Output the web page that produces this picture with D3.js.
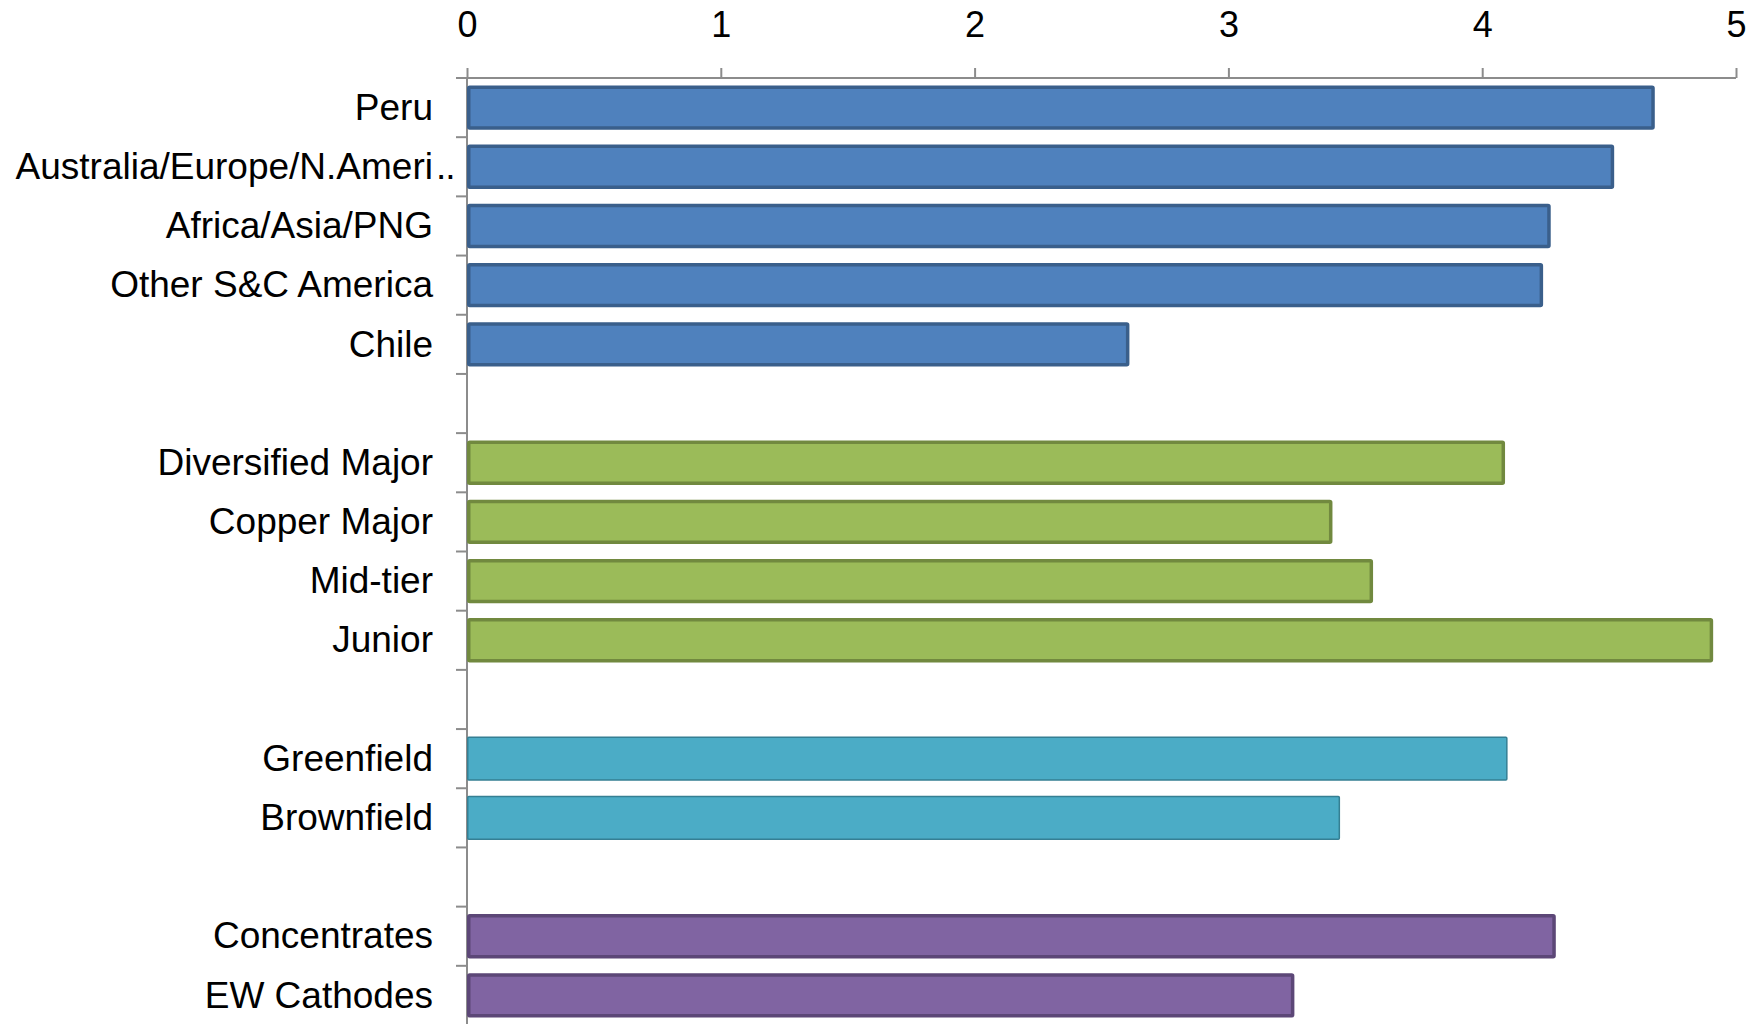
<!DOCTYPE html>
<html>
<head>
<meta charset="utf-8">
<script src="https://cdn.jsdelivr.net/npm/d3@7/dist/d3.min.js"></script>
<style>
  html, body { margin: 0; padding: 0; background: #ffffff; }
  svg { display: block; }
  text { font-family: "Liberation Sans", Arial, sans-serif; fill: #000; }
</style>
</head>
<body>
<svg id="chart" width="1762" height="1024"></svg>
<script>
// Groups of horizontal bars, top to bottom
const regionLabels  = ["Peru", "Australia/Europe/N.Ameri..", "Africa/Asia/PNG", "Other S&C America", "Chile"];
const regionValues  = [4.68, 4.52, 4.27, 4.24, 2.61];

const ownerLabels   = ["Diversified Major", "Copper Major", "Mid-tier", "Junior"];
const ownerValues   = [4.09, 3.41, 3.57, 4.91];

const projectLabels = ["Greenfield", "Brownfield"];
const projectValues = [4.10, 3.44];

const productLabels = ["Concentrates", "EW Cathodes"];
const productValues = [4.29, 3.26];

const xTicks = [0, 1, 2, 3, 4, 5];

const groups = [
  { labels: regionLabels,  values: regionValues,  fill: "#4f81bd", stroke: "#3a5f8b", sw: 3.5 },
  { labels: ownerLabels,   values: ownerValues,   fill: "#9bbb59", stroke: "#71893f", sw: 3.5 },
  { labels: projectLabels, values: projectValues, fill: "#4bacc6", stroke: "#357f93", sw: 1.5 },
  { labels: productLabels, values: productValues, fill: "#8064a2", stroke: "#5c4777", sw: 3.5 }
];

// Flatten into rows, with an empty slot between groups
const rows = [];
groups.forEach((g, gi) => {
  g.labels.forEach((lab, i) => rows.push({ key: "r" + rows.length, label: lab, value: g.values[i], g }));
  if (gi < groups.length - 1) rows.push({ key: "r" + rows.length, label: "", value: null, g: null });
});

const svg = d3.select("#chart");
const margin = { left: 467, right: 26, top: 78, bottom: -1 };
const W = 1762, H = 1024;

const x = d3.scaleLinear().domain([0, 5]).range([margin.left, W - margin.right]);
const y = d3.scaleBand()
  .domain(rows.map(r => r.key))
  .range([margin.top, H - margin.bottom])
  .paddingInner(0.25)
  .paddingOuter(0.125);

const axisColor = "#8c8c8c";

// Top value axis
const xAxis = d3.axisTop(x).tickValues(xTicks).tickSize(10).tickPadding(0).tickFormat(d3.format("d"));
const gx = svg.append("g").attr("transform", `translate(0,${margin.top})`).call(xAxis);
gx.select(".domain").attr("stroke", axisColor).attr("stroke-width", 2)
  .attr("d", `M${margin.left - 11},0H${x(5)}`);
gx.selectAll(".tick line").attr("stroke", axisColor).attr("stroke-width", 2);
gx.selectAll(".tick text")
  .attr("y", -41)
  .attr("dy", 0)
  .style("font-size", "36px")
  .style("font-family", "'Liberation Sans', Arial, sans-serif")
  .attr("fill", "#000");

// Left category axis: line with ticks at slot boundaries
const step = y.step();
const boundaries = d3.range(rows.length + 1).map(i => margin.top + i * step);
const gy = svg.append("g");
gy.append("line")
  .attr("x1", margin.left).attr("x2", margin.left)
  .attr("y1", margin.top).attr("y2", H)
  .attr("stroke", axisColor).attr("stroke-width", 2);
gy.selectAll("line.tk").data(boundaries.slice(1)).join("line")
  .attr("class", "tk")
  .attr("x1", margin.left - 11).attr("x2", margin.left)
  .attr("y1", d => d).attr("y2", d => d)
  .attr("stroke", axisColor).attr("stroke-width", 2);

// Bars
const bars = rows.filter(r => r.value !== null);
svg.append("g").selectAll("rect").data(bars).join("rect")
  .attr("x", d => x(0) + d.g.sw / 2)
  .attr("y", d => y(d.key) + d.g.sw / 2)
  .attr("width", d => x(d.value) - x(0) - d.g.sw)
  .attr("height", d => y.bandwidth() - d.g.sw)
  .attr("fill", d => d.g.fill)
  .attr("stroke", d => d.g.stroke)
  .attr("stroke-width", d => d.g.sw)
  .attr("rx", 1);

// Category labels; a truncated label keeps its trailing dots past the text edge
const fs = 37;
const labelX = 433;
const labelG = svg.append("g");
bars.forEach(d => {
  const base = y(d.key) + y.bandwidth() / 2 + fs * 0.33;
  const truncated = d.label.endsWith("..");
  const main = truncated ? d.label.slice(0, -2) : d.label;
  labelG.append("text")
    .attr("x", labelX)
    .attr("y", base)
    .attr("text-anchor", "end")
    .style("font-size", fs + "px")
    .text(main);
  if (truncated) {
    labelG.append("text")
      .attr("x", labelX + 3)
      .attr("y", base)
      .attr("text-anchor", "start")
      .style("font-size", fs + "px")
      .style("letter-spacing", "-1px")
      .text("..");
  }
});
</script>
</body>
</html>
